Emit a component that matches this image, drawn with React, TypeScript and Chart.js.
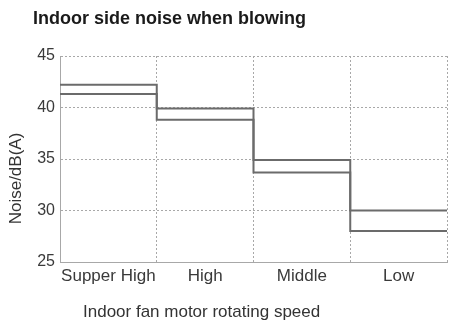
import React, { useEffect, useRef } from "react";
import { Chart, registerables } from "chart.js";

Chart.register(...registerables);

const chartTitle = "Indoor side noise when blowing";
const xAxisTitle = "Indoor fan motor rotating speed";
const yAxisTitle = "Noise/dB(A)";
const categories = ["Supper High", "High", "Middle", "Low"];
const upperNoise = [42.2, 39.9, 34.9, 30.0];
const lowerNoise = [41.3, 38.8, 33.7, 28.0];
const yTicks = [25, 30, 35, 40, 45];

const FONT = "'Liberation Sans', Arial, Helvetica, sans-serif";

function stepPoints(values: number[]) {
  const pts = values.map((v, i) => ({ x: i, y: v }));
  pts.push({ x: values.length, y: values[values.length - 1] });
  return pts;
}

const textPlugin = {
  id: "freeText",
  afterDraw(chart: any) {
    const ctx = chart.ctx as CanvasRenderingContext2D;
    ctx.save();
    ctx.fillStyle = "#1a1a1a";
    ctx.font = `bold 18px ${FONT}`;
    ctx.textAlign = "left";
    ctx.textBaseline = "alphabetic";
    ctx.fillText(chartTitle, 33, 23.5);

    ctx.fillStyle = "#333333";
    ctx.font = `17px ${FONT}`;
    ctx.fillText(xAxisTitle, 83, 316.5);

    ctx.translate(21, 178.5);
    ctx.rotate(-Math.PI / 2);
    ctx.textAlign = "center";
    ctx.fillText(yAxisTitle, 0, 0);
    ctx.restore();
  },
};

export default function App() {
  const ref = useRef<HTMLCanvasElement | null>(null);

  useEffect(() => {
    if (!ref.current) return;
    const lineStyle = {
      borderColor: "#6b6b6b",
      borderWidth: 2,
      pointRadius: 0,
      stepped: true as const,
      fill: false,
      xAxisID: "xl",
    };
    const chart = new Chart(ref.current, {
      type: "line",
      data: {
        labels: categories,
        datasets: [
          { label: "Upper", data: stepPoints(upperNoise), ...lineStyle },
          { label: "Lower", data: stepPoints(lowerNoise), ...lineStyle },
        ],
      },
      options: {
        animation: false,
        responsive: false,
        devicePixelRatio: 1,
        layout: { padding: { left: 0, top: 56, right: 2, bottom: 0 } },
        plugins: { legend: { display: false }, tooltip: { enabled: false } },
        scales: {
          x: {
            type: "category",
            offset: true,
            grid: {
              offset: true,
              color: "#a8a8a8",
              lineWidth: 1,
              drawTicks: false,
            },
            border: { display: true, color: "#a8a8a8", dash: [2, 2] },
            ticks: {
              padding: 4,
              color: "#3a3a3a",
              font: { family: FONT, size: 17 },
              maxRotation: 0,
              autoSkip: false,
            },
            afterFit(scale: any) {
              scale.height = 63;
            },
          },
          xl: {
            type: "linear",
            display: false,
            min: 0,
            max: categories.length,
          },
          y: {
            type: "linear",
            min: yTicks[0],
            max: yTicks[yTicks.length - 1],
            afterBuildTicks(scale: any) {
              scale.ticks = yTicks.map((v) => ({ value: v }));
            },
            grid: { color: "#a8a8a8", lineWidth: 1, drawTicks: false },
            border: { display: true, color: "#a8a8a8", dash: [2, 2] },
            ticks: {
              padding: 5,
              color: "#3a3a3a",
              font: { family: FONT, size: 16 },
            },
            afterFit(scale: any) {
              scale.width = 60;
            },
          },
        },
        elements: { line: { tension: 0 } },
      },
      plugins: [textPlugin],
    });
    // dotted grid lines
    const opts: any = chart.options.scales;
    opts.x.grid.tickBorderDash = [2, 2];
    chart.update();
    return () => chart.destroy();
  }, []);

  return (
    <div style={{ position: "fixed", left: 0, top: 0, width: 449, height: 325, background: "#fff" }}>
      <canvas ref={ref} width={449} height={325} />
    </div>
  );
}
